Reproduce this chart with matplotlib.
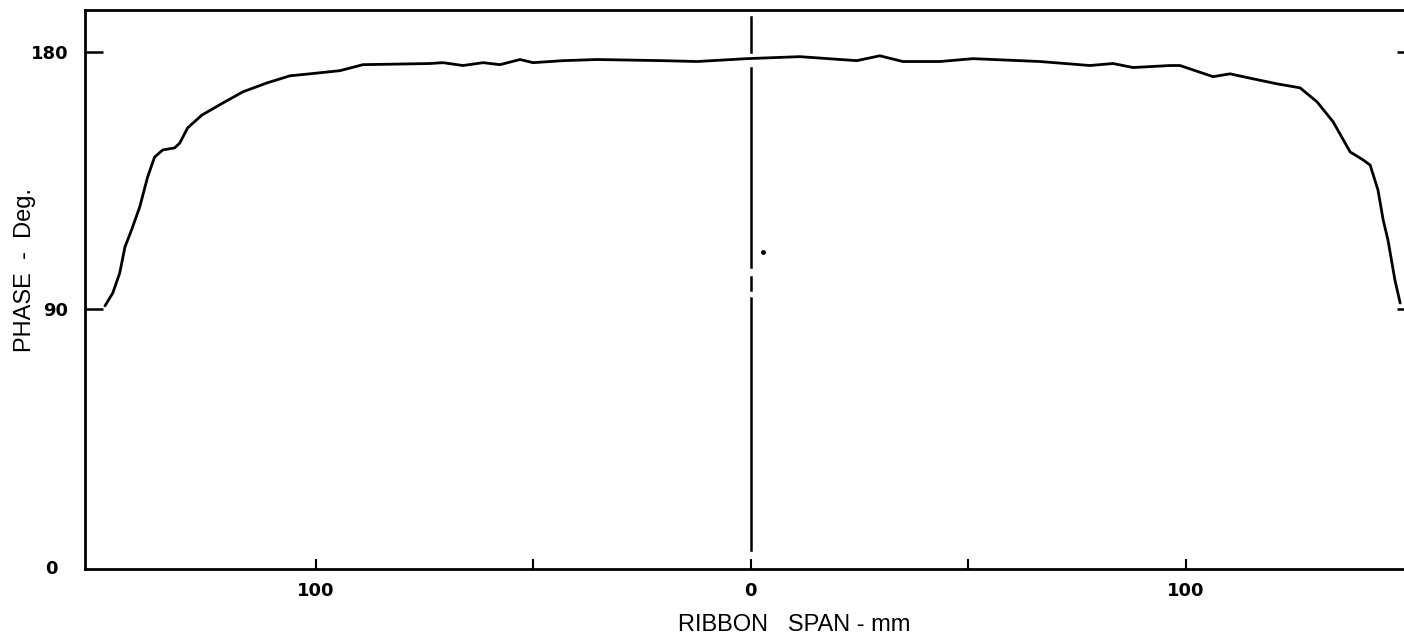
import matplotlib
matplotlib.use("Agg")
import matplotlib.pyplot as plt
from matplotlib.ticker import FixedLocator, FixedFormatter, NullFormatter

plt.rcParams['font.family'] = ['Liberation Sans', 'DejaVu Sans']

# phase across the ribbon span
span_mm = [-148.4, -146.6, -145.0, -143.8, -142.3, -140.4, -138.6, -137.0, -135.1,
           -132.4, -131.2, -129.4, -126.1, -121.3, -116.7, -111.2, -105.9, -101.3,
           -94.4, -89.1, -73.7, -70.7, -66.1, -61.5, -57.6, -53.0, -50.0, -43.1,
           -35.3, -20.2, -12.3, -0.9, 11.3, 24.4, 29.7, 35.0, 43.5, 51.1, 66.5,
           78.0, 83.3, 87.9, 96.4, 98.7, 106.3, 110.2, 114.1, 121.0, 126.3, 130.2,
           133.9, 137.8, 140.8, 142.4, 144.2, 145.4, 146.5, 148.1, 149.3]
phase_deg = [91.2, 95.7, 102.7, 111.8, 117.7, 125.8, 136.2, 143.2, 145.7,
             146.4, 148.1, 153.4, 157.9, 162.1, 166.0, 169.1, 171.6, 172.3,
             173.4, 175.5, 175.9, 176.2, 175.2, 176.2, 175.5, 177.3, 176.2, 176.9,
             177.3, 176.9, 176.6, 177.6, 178.3, 176.9, 178.6, 176.6, 176.6, 177.6, 176.6,
             175.2, 175.9, 174.5, 175.2, 175.2, 171.3, 172.3, 171.0, 168.8, 167.4, 162.5,
             155.5, 145.0, 142.2, 140.4, 131.7, 121.2, 114.2, 100.2, 92.2]

# centre line is broken into pieces in the original
centre_pieces = [(179.9, 192.2), (104.8, 174.4), (96.8, 101.3), (5.9, 94.0)]

x_major = [-100, 0, 100]
x_labels = ['100', '0', '100']
x_minor = [-50, 50]
y_major = [90, 180]
y_labels = ['90', '180']
y_zero = [0]

fig = plt.figure(figsize=(14.04, 6.42), dpi=100)
ax = fig.add_axes([0.0605, 0.1137, 0.9473, 0.8707])

ax.plot(span_mm, phase_deg, color='black', lw=2.0, solid_joinstyle='round',
        solid_capstyle='round')

for lo, hi in centre_pieces:
    ax.plot([0, 0], [lo, hi], color='black', lw=1.8)
ax.plot([2.8], [110], marker='o', ms=2.5, color='black')

ax.set_xlim(-153.0, 152.7)
ax.set_ylim(-0.77, 194.6)

for side in ['left', 'bottom', 'top']:
    ax.spines[side].set_linewidth(2.0)
ax.spines['right'].set_visible(False)

tick_font = {'family': 'DejaVu Sans', 'weight': 'bold', 'size': 13}

ax.xaxis.set_major_locator(FixedLocator(x_major))
ax.set_xticklabels(x_labels, fontdict=tick_font)
ax.xaxis.set_minor_locator(FixedLocator(x_minor))
ax.xaxis.set_minor_formatter(NullFormatter())
ax.tick_params(axis='x', which='both', direction='in', length=7, width=1.5,
               pad=9, top=False)

ax.yaxis.set_major_locator(FixedLocator(y_major))
ax.set_yticklabels(y_labels, fontdict=tick_font)
ax.yaxis.set_minor_locator(FixedLocator(y_zero))
ax.yaxis.set_minor_formatter(FixedFormatter(['0']))
ax.tick_params(axis='y', which='major', direction='in', length=13, width=1.8,
               pad=12, right=True)
ax.tick_params(axis='y', which='minor', length=0, pad=20)
for lbl in ax.yaxis.get_minorticklabels():
    lbl.set_fontproperties(tick_font)

fig.text(0.5655, 0.026, 'RIBBON   SPAN - mm', ha='center', va='center', fontsize=17)
fig.text(0.0178, 0.579, 'PHASE  -  Deg.', ha='center', va='center', rotation=90,
         fontsize=17)

fig.savefig('out.png', dpi=100)
